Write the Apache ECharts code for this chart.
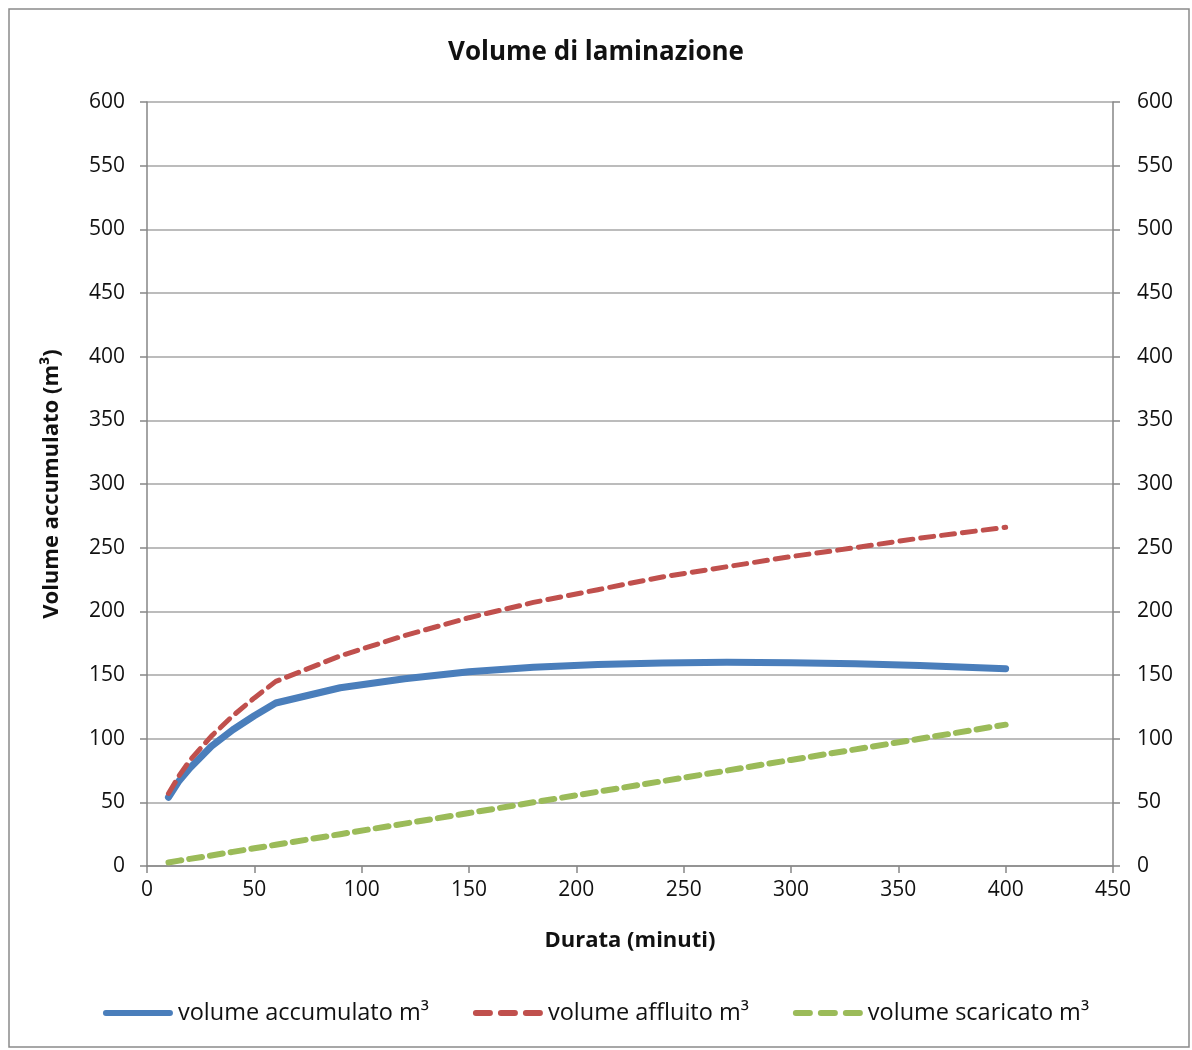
<!DOCTYPE html>
<html>
<head>
<meta charset="utf-8">
<script src="https://cdn.jsdelivr.net/npm/echarts@6/dist/echarts.min.js"></script>
<style>
html,body{margin:0;padding:0;background:#fff;}
#c{width:1192px;height:1050px;}
</style>
</head>
<body>
<div id="c"></div>
<script>
const durata = [10, 15, 20, 30, 40, 50, 60, 90, 120, 150, 180, 210, 240, 270, 300, 330, 360, 400];
const accumulato = [54, 67, 77, 94, 107, 118, 128, 140, 147, 152.5, 156, 158.3, 159.5, 160, 159.7, 158.8, 157.5, 155];
const affluito = [57, 71, 83, 102, 118, 132, 145, 165, 181, 195, 207, 217, 227, 235, 243, 250, 257.5, 266];
const scaricato = [2.8, 4.2, 5.6, 8.3, 11.1, 13.9, 16.7, 25, 33.3, 41.6, 50, 58.3, 66.6, 74.9, 83.3, 91.6, 99.9, 111];
const names = ['volume accumulato m³', 'volume affluito m³', 'volume scaricato m³'];

const pair = (ys) => durata.map((x, i) => [x, ys[i]]);
const FONT = 'Open Sans';
const txt = '#111';
const axisCol = '#868686';
const solidIcon = 'path://M3,0h64a3,3 0 0 1 0,6h-64a3,3 0 0 1 0,-6z';
const dashIcon = 'path://M3,0h14a3,3 0 0 1 0,6h-14a3,3 0 0 1 0,-6z M28,0h14a3,3 0 0 1 0,6h-14a3,3 0 0 1 0,-6z M53,0h14a3,3 0 0 1 0,6h-14a3,3 0 0 1 0,-6z';

const chart = echarts.init(document.getElementById('c'), null, {renderer: 'canvas'});
chart.setOption({
  animation: false,
  backgroundColor: '#fff',
  textStyle: {fontFamily: FONT},
  graphic: [{
    type: 'rect', shape: {x: 9, y: 9, width: 1180, height: 1038},
    style: {fill: 'none', stroke: '#8a8a8a', lineWidth: 1.5}, silent: true, z: -1
  }],
  title: {
    text: 'Volume di laminazione', left: 'center', top: 35,
    textStyle: {fontFamily: FONT, fontSize: 26, fontWeight: 'bold', color: txt}
  },
  grid: {left: 147, right: 79, top: 102, bottom: 184, containLabel: false},
  legend: {
    bottom: 20, left: 'center', itemWidth: 70, itemHeight: 7, itemGap: 44,
    textStyle: {fontFamily: FONT, fontSize: 23.5, color: txt, padding: [0, 0, 0, 0]},
    data: [
      {name: names[0], icon: solidIcon},
      {name: names[1], icon: dashIcon},
      {name: names[2], icon: dashIcon}
    ]
  },
  xAxis: {
    type: 'value', min: 0, max: 450, interval: 50,
    name: 'Durata (minuti)', nameLocation: 'middle', nameGap: 64,
    nameTextStyle: {fontFamily: FONT, fontSize: 22, fontWeight: 'bold', color: txt},
    axisLine: {show: true, lineStyle: {color: axisCol, width: 1.5}},
    axisTick: {show: true, length: 7, lineStyle: {color: axisCol, width: 1.5}},
    axisLabel: {fontFamily: FONT, fontSize: 21, color: txt, margin: 14},
    splitLine: {show: false}
  },
  yAxis: [{
    type: 'value', min: 0, max: 600, interval: 50, position: 'left',
    name: 'Volume accumulato (m³)', nameLocation: 'middle', nameGap: 84, nameRotate: 90,
    nameTextStyle: {fontFamily: FONT, fontSize: 22, fontWeight: 'bold', color: txt},
    axisLine: {show: true, lineStyle: {color: axisCol, width: 1.5}},
    axisTick: {show: true, length: 7, lineStyle: {color: axisCol, width: 1.5}},
    axisLabel: {fontFamily: FONT, fontSize: 21, color: txt, margin: 22},
    splitLine: {show: true, lineStyle: {color: '#a6a6a6', width: 1.5}}
  }, {
    type: 'value', min: 0, max: 600, interval: 50, position: 'right',
    axisLine: {show: true, lineStyle: {color: axisCol, width: 1.5}},
    axisTick: {show: true, length: 7, lineStyle: {color: axisCol, width: 1.5}},
    axisLabel: {fontFamily: FONT, fontSize: 21, color: txt, margin: 24},
    splitLine: {show: false}
  }],
  series: [{
    name: names[0], type: 'line', data: pair(accumulato), symbol: 'none',
    itemStyle: {color: '#4a7ebb'},
    lineStyle: {color: '#4a7ebb', width: 7, cap: 'round', join: 'round'}, z: 3
  }, {
    name: names[1], type: 'line', data: pair(affluito), symbol: 'none',
    itemStyle: {color: '#c0504d'},
    lineStyle: {color: '#c0504d', width: 5, type: [13, 8], cap: 'round', join: 'round'}, z: 4
  }, {
    name: names[2], type: 'line', data: pair(scaricato), symbol: 'none',
    itemStyle: {color: '#9bbb59'},
    lineStyle: {color: '#9bbb59', width: 6, type: [13, 8], cap: 'round', join: 'round'}, z: 4
  }]
});
</script>
</body>
</html>
